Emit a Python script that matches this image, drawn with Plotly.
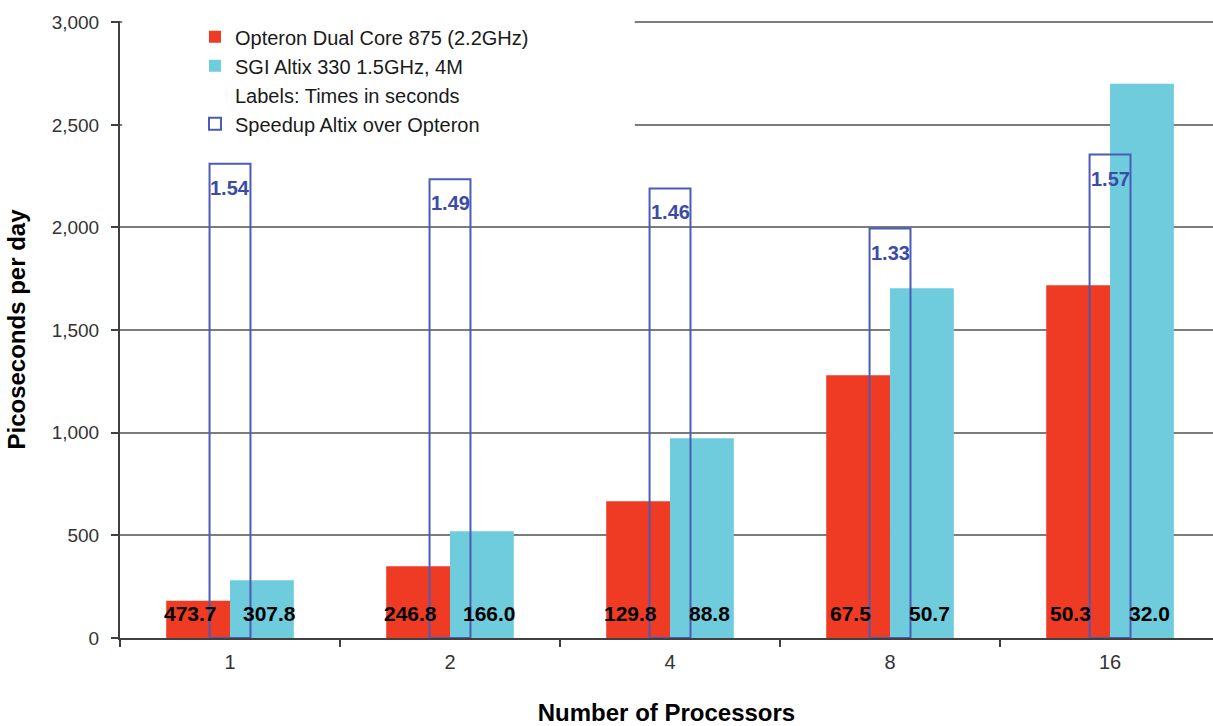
import plotly.graph_objects as go

# Benchmark results per processor count
processors = ["1", "2", "4", "8", "16"]
opteron_ps_per_day = [182, 350, 666, 1280, 1718]
altix_ps_per_day = [281, 520, 973, 1704, 2700]
opteron_time_s = ["473.7", "246.8", "129.8", "67.5", "50.3"]
altix_time_s = ["307.8", "166.0", "88.8", "50.7", "32.0"]
speedup = [1.54, 1.49, 1.46, 1.33, 1.57]
y_ticks = [0, 500, 1000, 1500, 2000, 2500, 3000]

FONT = "Liberation Sans, Arial, sans-serif"
RED = "#EF3B24"
CYAN = "#6FCCDC"
BOX_BLUE = "#4B5BB8"
LABEL_BLUE = "#3A4CA6"
AXIS = "#404040"

pos = list(range(len(processors)))
BAR_W = 0.29
BOX_W = 0.186
Y_MAX = 3006  # a little headroom so the 3,000 gridline is drawn in full

fig = go.Figure()

fig.add_trace(go.Bar(
    x=pos, y=opteron_ps_per_day, name="Opteron Dual Core 875 (2.2GHz)",
    width=BAR_W, offset=-BAR_W, marker=dict(color=RED, line=dict(width=0)),
    legendrank=1,
))
fig.add_trace(go.Bar(
    x=pos, y=altix_ps_per_day, name="SGI Altix 330 1.5GHz, 4M",
    width=BAR_W, offset=0, marker=dict(color=CYAN, line=dict(width=0)),
    legendrank=2,
))
# Text-only legend entry explaining the bar labels
fig.add_trace(go.Scatter(
    x=[None], y=[None], mode="markers", name="Labels: Times in seconds",
    marker=dict(color="rgba(0,0,0,0)", size=1), legendrank=3,
))
fig.add_trace(go.Bar(
    x=pos, y=speedup, name="Speedup Altix over Opteron", yaxis="y2",
    width=BOX_W, offset=-BOX_W / 2,
    marker=dict(color="rgba(255,255,255,0)", line=dict(color=BOX_BLUE, width=2)),
    legendrank=4,
))

annotations = []
for i in pos:
    annotations.append(dict(
        x=i - BAR_W / 2, y=0, xref="x", yref="y", text=opteron_time_s[i],
        showarrow=False, yanchor="middle", yshift=25, xshift=-8,
        font=dict(family=FONT, size=21, color="black", weight="bold"),
    ))
    annotations.append(dict(
        x=i + BAR_W / 2, y=0, xref="x", yref="y", text=altix_time_s[i],
        showarrow=False, yanchor="middle", yshift=25, xshift=8,
        font=dict(family=FONT, size=21, color="black", weight="bold"),
    ))
    annotations.append(dict(
        x=i, y=speedup[i], xref="x", yref="y2", text=f"{speedup[i]:.2f}",
        showarrow=False, yanchor="middle", yshift=-24,
        font=dict(family=FONT, size=20, color=LABEL_BLUE, weight="bold"),
    ))

fig.update_layout(
    width=1213, height=726,
    margin=dict(l=120, r=0, t=21, b=88),
    paper_bgcolor="white", plot_bgcolor="white",
    font=dict(family=FONT, color="#333333"),
    showlegend=True,
    legend=dict(
        x=0.0686, y=1.006, xanchor="left", yanchor="top",
        bgcolor="rgba(0,0,0,0)", font=dict(family=FONT, size=20, color="#1a1a1a"),
        traceorder="normal", tracegroupgap=0,
    ),
    xaxis=dict(
        range=[-0.5, len(processors) - 0.532],
        tickvals=pos, ticktext=processors, ticks="",
        tickfont=dict(family=FONT, size=20, color="#333333"),
        ticklabelstandoff=5,
        showline=True, linecolor=AXIS, linewidth=2,
        showgrid=False, zeroline=False,
        minor=dict(
            tickvals=[p - 0.5 for p in pos] + [len(processors) - 0.5],
            ticks="outside", ticklen=7, tickwidth=2, tickcolor=AXIS, showgrid=False,
        ),
        title=dict(text="Number of Processors", standoff=34,
                   font=dict(family=FONT, size=24, color="black", weight="bold")),
    ),
    yaxis=dict(
        range=[0, Y_MAX], tickvals=y_ticks, tickformat=",",
        ticks="outside", ticklen=7, tickwidth=2, tickcolor=AXIS,
        tickfont=dict(family=FONT, size=19, color="#333333"),
        ticklabelstandoff=8,
        showline=True, linecolor=AXIS, linewidth=2,
        showgrid=True, gridcolor="#7c7c7c", gridwidth=2, zeroline=False,
        title=dict(text="Picoseconds per day", standoff=19,
                   font=dict(family=FONT, size=24, color="black", weight="bold")),
    ),
    yaxis2=dict(range=[0, 2 * Y_MAX / 3000], overlaying="y", visible=False),
    annotations=annotations,
    shapes=[dict(
        type="rect", xref="paper", yref="paper",
        x0=0.002, x1=0.471, y0=0.808, y1=1.03,
        fillcolor="white", line=dict(width=0), layer="above",
    )],
)

fig.write_html("out.html")
